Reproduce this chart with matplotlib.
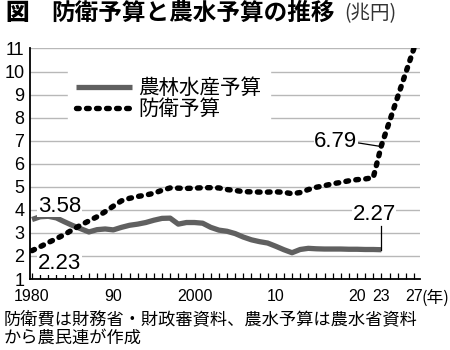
import matplotlib
matplotlib.use("Agg")
import matplotlib.pyplot as plt

plt.rcParams['font.family'] = ['Noto Sans CJK JP', 'DejaVu Sans']

# 予算の推移（兆円）
years = list(range(1980, 2028))
farm_years = list(range(1980, 2024))
farm = [3.58, 3.70, 3.72, 3.65, 3.48, 3.32, 3.18, 3.04, 3.14, 3.17,
        3.13, 3.24, 3.33, 3.38, 3.45, 3.55, 3.63, 3.64, 3.38, 3.45,
        3.45, 3.42, 3.24, 3.12, 3.07, 2.97, 2.82, 2.70, 2.62, 2.56,
        2.42, 2.27, 2.14, 2.28, 2.33, 2.31, 2.30, 2.30, 2.30, 2.29,
        2.29, 2.28, 2.28, 2.27]
defense = [2.23, 2.40, 2.58, 2.75, 2.93, 3.14, 3.34, 3.52, 3.70, 3.92,
           4.16, 4.39, 4.50, 4.58, 4.64, 4.72, 4.85, 4.95, 4.94, 4.93,
           4.94, 4.96, 4.96, 4.95, 4.88, 4.84, 4.79, 4.78, 4.77, 4.77,
           4.78, 4.76, 4.70, 4.75, 4.88, 4.98, 5.05, 5.13, 5.19, 5.26,
           5.31, 5.34, 5.40, 6.79, 7.84, 8.90, 9.95, 11.0]

tick_years = [1980, 1990, 2000, 2010, 2020, 2023, 2027]
tick_text = ['1980', '90', '2000', '10', '20', '23', '27']
y_ticks = list(range(1, 12))

narrow = ['Liberation Sans Narrow', 'Liberation Sans', 'DejaVu Sans']

fig = plt.figure(figsize=(4.5, 3.5), dpi=100)
ax = fig.add_axes([30 / 450, 1 - 279 / 350, 390 / 450, 231 / 350])
ax.set_xlim(1979.75, 2027.75)
ax.set_ylim(1, 11.02)

ax.set_yticks(y_ticks)
ax.set_yticklabels([str(v) for v in y_ticks], family='Liberation Sans', fontsize=13)
ax.tick_params(axis='y', length=0, pad=4)
ax.grid(axis='y', color='#b8b8b8', linewidth=1.0)
ax.set_axisbelow(True)

labels = {y: t for y, t in zip(tick_years, tick_text)}
ax.set_xticks(years)
ax.set_xticklabels([labels.get(y, '') for y in years], family=narrow, fontsize=11.5)
ax.tick_params(axis='x', direction='in', length=4, width=0.9, pad=7.5)
ax.annotate('(年)', xy=(2027.9, 0), xycoords=ax.get_xaxis_transform(),
            xytext=(0, -7.5), textcoords='offset points',
            fontsize=12, va='top', ha='left', annotation_clip=False)

for s in ['top', 'right']:
    ax.spines[s].set_visible(False)
ax.spines['left'].set_linewidth(1.3)
ax.spines['bottom'].set_linewidth(1.3)

ln_farm, = ax.plot(farm_years, farm, color='#606060', linewidth=3.8,
                   solid_capstyle='butt', label='農林水産予算')
ln_def, = ax.plot(years, defense, color='black', linewidth=3.9,
                  linestyle=(0, (0.5, 1.35)), dash_capstyle='round',
                  label='防衛予算')

leg = ax.legend(handles=[ln_farm, ln_def], loc='upper left',
                bbox_to_anchor=(0.07, 0.955), frameon=True, fontsize=14.8,
                handlelength=2.75, handletextpad=0.3, labelspacing=-0.05,
                borderpad=0.4, fancybox=False)
leg.get_frame().set_edgecolor('white')
leg.get_frame().set_facecolor('white')
leg.get_frame().set_alpha(1)

box = dict(facecolor='white', edgecolor='none', pad=0.5)
ax.text(1983.4, farm[0] + 0.12, '%.2f' % farm[0], fontsize=16, family='Liberation Sans',
        ha='center', va='bottom', bbox=box)
ax.text(1983.4, defense[0] - 0.12, '%.2f' % defense[0], fontsize=16, family='Liberation Sans',
        ha='center', va='top', bbox=box)

i23 = years.index(2023)
ax.text(2017.4, 6.95, '%.2f' % defense[i23], fontsize=16, family='Liberation Sans',
        ha='center', va='center', bbox=box)
ax.plot([2020.2, 2022.9], [6.9, 6.75], color='black', linewidth=0.9)

ax.text(2022.1, 3.35, '%.2f' % farm[-1], fontsize=16, family='Liberation Sans',
        ha='center', va='bottom', bbox=box)
ax.plot([2023, 2023], [farm[-1], 3.3], color='black', linewidth=0.9)

fig.text(5 / 450, 1 - 13 / 350, '図', fontsize=17, fontweight='heavy', va='center')
fig.text(51 / 450, 1 - 13 / 350, '防衛予算と農水予算の推移', fontsize=17,
         fontweight='bold', va='center')
fig.text(344 / 450, 1 - 14 / 350, '(兆円)', fontsize=14, va='center', color='#333333')

fig.text(4 / 450, 1 - 319 / 350, '防衛費は財務省・財政審資料、農水予算は農水省資料',
         fontsize=12.4, va='center')
fig.text(4 / 450, 1 - 338 / 350, 'から農民連が作成', fontsize=12.4, va='center')

fig.savefig('out.png', dpi=100)
